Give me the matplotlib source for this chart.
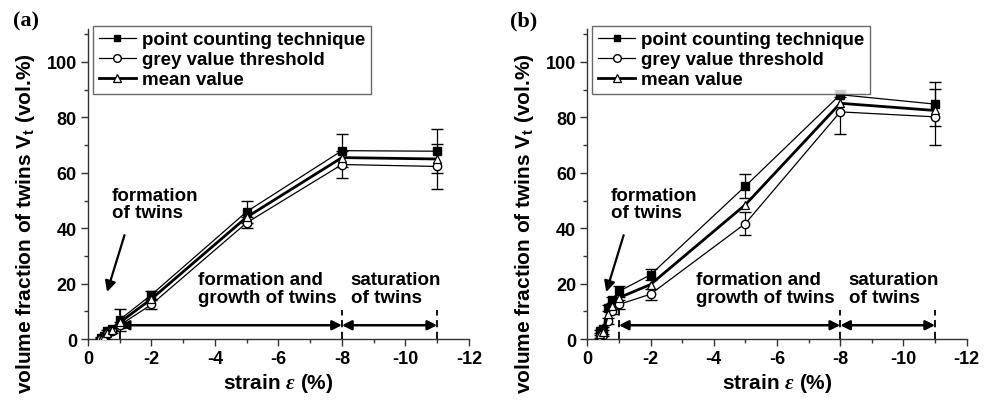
import numpy as np
from matplotlib import pyplot as plt
from matplotlib.ticker import MultipleLocator
from matplotlib.lines import Line2D

plt.rcParams["font.family"] = ["Liberation Sans", "DejaVu Sans"]
plt.rcParams["font.weight"] = "bold"
plt.rcParams["axes.labelweight"] = "bold"
plt.rcParams["axes.unicode_minus"] = False
plt.rcParams["mathtext.fontset"] = "custom"
plt.rcParams["mathtext.it"] = "Liberation Serif:italic"
plt.rcParams["mathtext.bf"] = "Liberation Sans:bold"
plt.rcParams["mathtext.rm"] = "Liberation Sans:bold"

# panel (a)
strain_a = [-0.4, -0.5, -0.6, -0.75, -1, -2, -5, -8, -11]
point_a = [0.3, 1.2, 2.8, 3.8, 7.0, 16.0, 46.0, 68.0, 67.8]
point_err_a = [0.3, 0.3, 0.5, 0.5, 4.0, 1.5, 4.0, 6.0, 8.0]
grey_a = [0.0, 0.5, 1.8, 2.8, 5.0, 12.5, 42.0, 63.0, 62.3]
grey_err_a = [0.3, 0.3, 0.5, 0.5, 1.0, 1.5, 2.0, 5.0, 8.0]
mean_a = [0.15, 0.9, 2.3, 3.3, 6.0, 14.5, 44.0, 65.5, 65.0]

# panel (b)
strain_b = [-0.4, -0.5, -0.65, -0.77, -1, -2, -5, -8, -11]
point_b = [2.8, 3.8, 11.3, 14.2, 17.2, 23.2, 55.2, 88.2, 84.8]
point_err_b = [0.5, 0.5, 1.0, 1.0, 2.0, 2.0, 4.3, 1.0, 8.0]
grey_b = [1.0, 1.5, 6.5, 10.0, 12.5, 16.2, 41.7, 82.0, 80.2]
grey_err_b = [0.5, 0.5, 1.0, 1.0, 1.5, 2.0, 4.0, 8.0, 10.0]
mean_b = [1.9, 2.6, 9.0, 12.1, 14.9, 19.7, 48.5, 85.1, 82.5]

legend_labels = ["point counting technique", "grey value threshold", "mean value"]
region_bounds = [-1, -8, -11]


def draw_panel(ax, x, pc, pc_err, gr, gr_err, mn, letter_x, letter):
    ax.errorbar(x, pc, yerr=pc_err, color="black", lw=0.9, marker="s", ms=5.5,
                mfc="black", mec="black", capsize=4, elinewidth=0.9, zorder=3)
    ax.errorbar(x, gr, yerr=gr_err, color="black", lw=0.9, marker="o", ms=6,
                mfc="white", mec="black", capsize=4, elinewidth=0.9, zorder=3)
    ax.plot(x, mn, color="black", lw=2.0, marker="^", ms=6, mfc="white",
            mec="black", mew=0.9, zorder=4)

    ax.set_xlim(0, -12)
    ax.set_ylim(0, 112)
    ax.xaxis.set_major_locator(MultipleLocator(2))
    ax.xaxis.set_minor_locator(MultipleLocator(1))
    ax.yaxis.set_minor_locator(MultipleLocator(10))
    ax.set_yticks([0, 20, 40, 60, 80, 100])
    ax.spines["top"].set_visible(False)
    ax.spines["right"].set_visible(False)
    for s in ["left", "bottom"]:
        ax.spines[s].set_linewidth(1.0)
        ax.spines[s].set_color("#333333")
    ax.tick_params(which="major", direction="out", length=5, width=1,
                   labelsize=13, pad=3, color="#333333")
    ax.tick_params(which="minor", direction="out", length=3, width=1,
                   color="#333333")
    for lab in ax.get_xticklabels() + ax.get_yticklabels():
        lab.set_fontweight("bold")
    ax.set_xlabel(r"strain $\varepsilon$ (%)", fontsize=15, labelpad=3)
    ax.set_ylabel(r"volume fraction of twins $\mathbf{V}_\mathbf{t}$ (vol.%)",
                  fontsize=15)
    ax.yaxis.set_label_coords(-0.135, 0.375)

    # regions
    for b in region_bounds:
        ax.plot([b, b], [0, 10.5], color="black", lw=1.3, ls=(0, (4, 2.5)),
                zorder=2)
    for x0, x1 in [(-1, -8), (-8, -11)]:
        ax.annotate("", xy=(x1, 5), xytext=(x0, 5),
                    arrowprops=dict(arrowstyle="<|-|>", color="black", lw=1.8,
                                    mutation_scale=14, shrinkA=0, shrinkB=0))
    ax.text(-0.75, 42.5, "formation\nof twins", fontsize=13.5, ha="left",
            va="bottom", linespacing=1.05)
    ax.annotate("", xy=(-0.6, 17), xytext=(-1.15, 37.5),
                arrowprops=dict(arrowstyle="-|>", color="black", lw=1.6,
                                mutation_scale=16, shrinkA=0, shrinkB=0))
    ax.text(-3.45, 12, "formation and\ngrowth of twins", fontsize=13.5,
            ha="left", va="bottom", linespacing=1.05)
    ax.text(-8.27, 12, "saturation\nof twins", fontsize=13.5, ha="left",
            va="bottom", linespacing=1.05)

    handles = [
        Line2D([], [], color="black", lw=0.9, marker="s", ms=5, mfc="black"),
        Line2D([], [], color="black", lw=0.9, marker="o", ms=5.5, mfc="white"),
        Line2D([], [], color="black", lw=2.0, marker="^", ms=5.5, mfc="white",
               mew=0.9),
    ]
    leg = ax.legend(handles, legend_labels, loc="upper left",
                    bbox_to_anchor=(0.013, 1.01),
                    frameon=True, fancybox=False, borderpad=0.3,
                    labelspacing=0.15, handlelength=2.0, handletextpad=0.3,
                    borderaxespad=0, prop={"weight": "bold", "size": 13.5})
    leg.get_frame().set_edgecolor("#444444")
    leg.get_frame().set_linewidth(1.0)
    plt.gcf().text(letter_x, 0.935, letter, fontsize=16, fontweight="bold",
                   family="Liberation Serif")


fig = plt.figure(figsize=(9.92, 4.02), dpi=100)
ax1 = fig.add_axes([0.0887, 0.154, 0.384, 0.772])
ax2 = fig.add_axes([0.592, 0.154, 0.3825, 0.772])
draw_panel(ax1, strain_a, point_a, point_err_a, grey_a, grey_err_a, mean_a,
           0.013, "(a)")
draw_panel(ax2, strain_b, point_b, point_err_b, grey_b, grey_err_b, mean_b,
           0.514, "(b)")
fig.savefig("out.png", dpi=100)
